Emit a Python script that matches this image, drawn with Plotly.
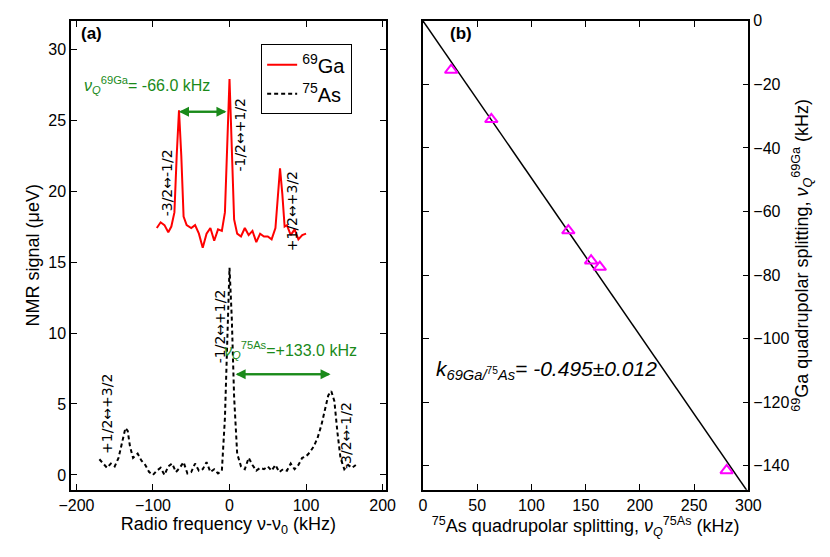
import plotly.graph_objects as go

# (a) NMR spectra
ga_freq = [-95, -90, -85, -80, -76, -72, -69, -66, -63, -60, -56, -50, -45, -40, -35, -30, -25, -20, -15, -10,
           -6, -3, 0, 3, 6, 10, 15, 20, 25, 30, 35, 40, 45, 50, 55, 60, 63, 66, 69, 72, 75, 80, 85, 90, 95, 100]
ga_sig = [17.4, 17.8, 17.6, 17.1, 17.5, 18.5, 22.5, 25.7, 22.5, 18.2, 17.6, 17.4, 17.6, 17.0, 16.0, 17.0, 17.4, 16.5,
          17.3, 17.2, 18.5, 23.5, 27.9, 23.0, 18.0, 17.0, 16.8, 17.4, 16.9, 17.2, 16.4, 17.0, 16.8, 16.8, 16.6, 17.4,
          19.5, 21.6, 19.8, 17.5, 17.6, 16.9, 17.3, 16.6, 16.9, 17.0]
as_freq = [-170, -165, -160, -155, -150, -145, -140, -136, -133, -130, -126, -120, -115, -110, -105, -100, -95, -90,
           -85, -80, -75, -70, -65, -60, -55, -50, -45, -40, -35, -30, -25, -20, -15, -10, -6, -3, 0, 3, 6, 10,
           15, 20, 25, 30, 35, 40, 45, 50, 55, 60, 65, 70, 75, 80, 85, 90, 95, 100, 105, 110, 115, 120, 125, 129,
           133, 137, 141, 145, 150, 155, 160, 165]
as_sig = [1.1, 0.8, 0.5, 0.8, 0.6, 1.2, 2.5, 3.3, 3.1, 2.0, 1.2, 1.5, 1.0, 0.7, 0.2, 0.0, 0.3, 0.5, 0.0, 0.6,
          0.8, 0.2, 0.5, 0.9, 0.1, 0.2, 0.8, 0.3, 0.4, 0.9, 0.2, 0.4, 0.1, 0.3, 4.0, 10.0, 14.6, 11.0, 5.5, 1.5,
          0.6, 0.4, 1.2, 0.7, 0.3, 0.5, 0.4, 0.6, 0.3, 0.7, 0.2, 0.4, 0.3, 0.8, 0.4, 0.7, 1.2, 1.3, 1.6, 2.0,
          2.6, 3.5, 4.8, 5.6, 5.9, 5.2, 3.0, 1.2, 0.4, 0.7, 0.5, 0.7]

# (b) quadrupolar splittings
nu_as = [26, 63, 134, 155, 163, 280]
nu_ga = [-15.5, -31, -66, -75.5, -77.5, -141.5]
fit_x = [0, 300]
fit_y = [0, -148.5]

FONT = "Liberation Sans"
GREEN = "#1a8a1a"

fig = go.Figure()
fig.add_trace(go.Scatter(x=ga_freq, y=ga_sig, mode="lines", line=dict(color="red", width=2),
                         name="<sup>69</sup>Ga", xaxis="x", yaxis="y"))
fig.add_trace(go.Scatter(x=as_freq, y=as_sig, mode="lines", line=dict(color="black", width=2, dash="4px,3px"),
                         name="<sup>75</sup>As", xaxis="x", yaxis="y"))
fig.add_trace(go.Scatter(x=fit_x, y=fit_y, mode="lines", line=dict(color="black", width=1.5),
                         showlegend=False, xaxis="x2", yaxis="y2"))
fig.add_trace(go.Scatter(x=nu_as, y=nu_ga, mode="markers",
                         marker=dict(symbol="triangle-up-open", size=11, color="magenta", line=dict(width=2)),
                         showlegend=False, xaxis="x2", yaxis="y2"))

ax_common = dict(showline=True, linecolor="black", linewidth=1.5, mirror="allticks", ticks="inside",
                 ticklen=6, tickcolor="black", showgrid=False, zeroline=False, automargin=False,
                 tickfont=dict(family=FONT, size=16, color="black"))

fig.update_layout(
    width=830, height=557, plot_bgcolor="white", paper_bgcolor="white",
    margin=dict(l=0, r=0, t=0, b=0),
    font=dict(family=FONT, color="black"),
    xaxis=dict(ax_common, domain=[0.076, 0.455], range=[-207, 204], dtick=100,
               title=dict(text="Radio frequency ν-ν<sub>0</sub> (kHz)", font=dict(size=18), standoff=4)),
    yaxis=dict(ax_common, domain=[0.135, 0.977], range=[-1.05, 32], dtick=5,
               title=dict(text="NMR signal (μeV)", font=dict(size=18), standoff=4)),
    xaxis2=dict(ax_common, anchor="y2", domain=[0.5, 0.892], range=[0, 300], dtick=50,
                title=dict(text="<sup>75</sup>As quadrupolar splitting, <i>ν<sub>Q</sub></i><sup>75As</sup> (kHz)",
                           font=dict(size=18), standoff=4)),
    yaxis2=dict(ax_common, anchor="x2", domain=[0.135, 0.977], range=[-147.6, 0], dtick=20, side="right",
                title=dict(text="<sup>69</sup>Ga quadrupolar splitting, <i>ν<sub>Q</sub></i><sup>69Ga</sup> (kHz)",
                           font=dict(size=18), standoff=4)),
    legend=dict(x=0.305, y=0.935, xanchor="left", yanchor="top", bordercolor="black", borderwidth=1,
                bgcolor="white", font=dict(size=20), tracegroupgap=0),
)

ann = []
txt = dict(showarrow=False, font=dict(family="DejaVu Sans", size=14, color="black"))
ann.append(dict(txt, text="<b>(a)</b>", xref="paper", yref="paper", x=0.086, y=0.975, xanchor="left", yanchor="top",
                font=dict(family=FONT, size=17)))
ann.append(dict(txt, text="<b>(b)</b>", xref="paper", yref="paper", x=0.53, y=0.975, xanchor="left", yanchor="top",
                font=dict(family=FONT, size=17)))
# transition labels
for x, y, t in [(-82, 20.6, "-3/2↔-1/2"), (14, 24.0, "-1/2↔+1/2"), (82, 18.6, "+1/2↔+3/2"),
                (-12, 10.5, "-1/2↔+1/2"), (-160, 4.3, "+1/2↔+3/2"), (152, 2.8, "-3/2↔-1/2")]:
    ann.append(dict(txt, text=t, x=x, y=y, xref="x", yref="y", textangle=-90))
ann.append(dict(txt, text="<i>ν<sub>Q</sub></i><sup>69Ga</sup>= -66.0 kHz", x=-108, y=27.5, xref="x", yref="y",
                font=dict(family=FONT, size=16, color=GREEN)))
ann.append(dict(txt, text="<i>ν<sub>Q</sub></i><sup>75As</sup>=+133.0 kHz", x=80, y=8.8, xref="x", yref="y",
                font=dict(family=FONT, size=16, color=GREEN)))
for x0, x1, y in [(-66, -4, 25.6), (8, 132, 7.1)]:
    for a, b in [(x0, x1), (x1, x0)]:
        ann.append(dict(x=a, y=y, ax=b, ay=y, xref="x", yref="y", axref="x", ayref="y", text="",
                        showarrow=True, arrowhead=2, arrowsize=1, arrowwidth=2, arrowcolor=GREEN))
ann.append(dict(txt, text="<i>k<sub>69Ga/</sub></i><sub><sup>75</sup><i>As</i></sub><i>= -0.495±0.012</i>",
                x=10, y=-110, xref="x2", yref="y2", xanchor="left", font=dict(family=FONT, size=21)))
fig.update_layout(annotations=ann)

fig.write_html("out.html")
